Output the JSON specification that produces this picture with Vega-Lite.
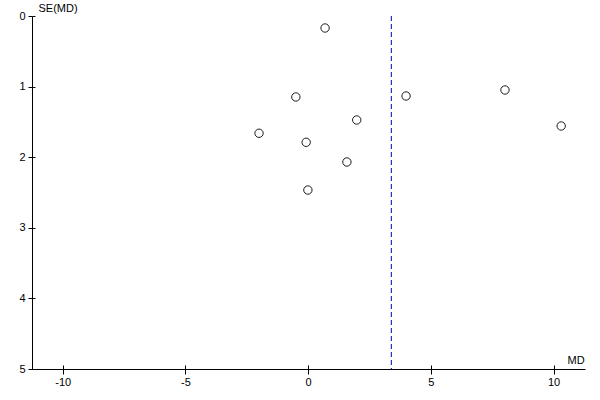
{
  "$schema": "https://vega.github.io/schema/vega-lite/v6.json",
  "width": 553,
  "height": 353,
  "autosize": "none",
  "padding": {"left": 32, "top": 16, "right": 15, "bottom": 31},
  "background": "white",
  "config": {
    "view": {"stroke": null},
    "font": "Liberation Sans",
    "axis": {
      "domainColor": "black",
      "tickColor": "black",
      "labelColor": "black",
      "titleColor": "black",
      "labelFontSize": 11,
      "titleFontSize": 11,
      "titleFontWeight": "normal",
      "grid": false,
      "domainWidth": 1,
      "tickWidth": 1
    }
  },
  "datasets": {
    "studies": [
      {"md": 0.69, "se": 0.17},
      {"md": -0.5, "se": 1.147},
      {"md": 3.99, "se": 1.133},
      {"md": 1.98, "se": 1.473},
      {"md": -2.0, "se": 1.661},
      {"md": -0.08, "se": 1.789},
      {"md": 1.58, "se": 2.068},
      {"md": -0.01, "se": 2.465},
      {"md": 8.02, "se": 1.048},
      {"md": 10.31, "se": 1.558}
    ],
    "pooled": [{"md": 3.39, "se_top": 0, "se_bottom": 5}]
  },
  "layer": [
    {
      "data": {"name": "pooled"},
      "mark": {"type": "rule", "color": "#0000c0", "strokeDash": [5, 3], "strokeWidth": 1},
      "encoding": {
        "x": {
          "field": "md", "type": "quantitative",
          "scale": {"domain": [-11.25, 11.28], "nice": false, "zero": false},
          "axis": {"orient": "bottom", "title": null, "labels": false, "domain": false, "tickSize": -4, "values": [-10, -5, 0, 5, 10]}
        },
        "y": {
          "field": "se_top", "type": "quantitative",
          "scale": {"domain": [0, 5], "reverse": true, "nice": false, "zero": false},
          "axis": {"orient": "left", "title": null, "labels": false, "domain": false, "tickSize": -3, "values": [0, 1, 2, 3, 4, 5]}
        },
        "y2": {"field": "se_bottom"}
      }
    },
    {
      "data": {"name": "studies"},
      "mark": {"type": "point", "shape": "circle", "filled": false, "fill": "white", "fillOpacity": 1, "stroke": "#1a1a1a", "strokeWidth": 1, "size": 70, "opacity": 1},
      "encoding": {
        "x": {
          "field": "md", "type": "quantitative",
          "scale": {"domain": [-11.25, 11.28], "nice": false, "zero": false},
          "axis": {"orient": "bottom", "title": "MD", "titleX": 535, "titleY": -9, "titleAlign": "left", "titleBaseline": "middle", "tickSize": 5, "labelPadding": 2, "values": [-10, -5, 0, 5, 10], "labelExpr": "datum.value < 0 ? '-' + abs(datum.value) : '' + datum.value"}
        },
        "y": {
          "field": "se", "type": "quantitative",
          "scale": {"domain": [0, 5], "reverse": true, "nice": false, "zero": false},
          "axis": {"orient": "left", "title": "SE(MD)", "titleAngle": 0, "titleX": 6, "titleY": -8, "titleAlign": "left", "titleBaseline": "middle", "tickSize": 4, "labelPadding": 3, "values": [0, 1, 2, 3, 4, 5]}
        }
      }
    }
  ],
  "resolve": {"axis": {"x": "independent", "y": "independent"}}
}
